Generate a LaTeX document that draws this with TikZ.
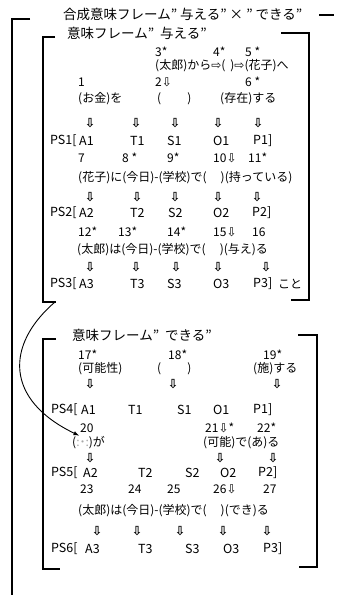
\documentclass[tikz,border=0pt]{standalone}
\usepackage{fontspec}
\setmainfont{Noto Sans CJK JP}
\newfontfamily\arrowfont{DejaVu Sans}
\newcommand{\dnarrow}{{\arrowfont ⇩}}
\newcommand{\rtarrow}{{\arrowfont ⇨}}
\newcommand{\gap}[1]{(\hspace{#1})}

\begin{document}
\begin{tikzpicture}[
    x=1pt, y=-1pt,
    txt/.style={anchor=west, inner sep=0pt, font=\fontsize{12}{12}\selectfont},
    lat/.style={anchor=west, inner sep=0pt, font=\fontsize{12.5}{12.5}\selectfont},
    ttl/.style={anchor=west, inner sep=0pt, font=\fontsize{13.5}{13.5}\selectfont},
    arr/.style={inner sep=0pt, font=\arrowfont\bfseries\fontsize{12.5}{12.5}\selectfont},
    frame/.style={draw, line width=1.2pt},
    line/.style={draw, -latex, line width=0.9pt}
]
    \useasboundingbox (0,0) rectangle (339,602);

    % outer frame
    \node [ttl] (title) at (63,14) {合成意味フレーム”\ 与える”\ ×\ ”\ できる”};
    \draw [frame] (30,19) -- (12,19) -- (12,595);
    \draw [frame] (319,15) -- (334,15);

    % frame 1
    \node [ttl] (frame1) at (67,33) {意味フレーム”\ \ 与える”};
    \draw [frame] (55,37) -- (43,37) -- (43,302) -- (56,302);
    \draw [frame] (281,33) -- (309,33) -- (309,300) -- (291,300);
    \coordinate (corner1) at (55,302);

    \node [txt] (n3) at (155,52) {3*};
    \node [txt] (n4) at (213,52) {4*};
    \node [txt] (n5) at (245,52) {5 *};
    \node [txt] (w345) at (155,66) {(太郎)から\rtarrow\gap{5pt}\rtarrow(花子)へ};
    \node [txt] (n1) at (78,82) {1};
    \node [txt] (n2) at (155,82) {2\dnarrow};
    \node [txt] (n6) at (245,82) {6 *};
    \node [txt] (w1) at (78,99) {(お金)を};
    \node [txt] (w2) at (157,99) {\gap{26pt}};
    \node [txt] (w6) at (220,99) {(存在)する};
    \node [arr] (d11) at (90,123) {⇩};
    \node [arr] (d12) at (136,123) {⇩};
    \node [arr] (d13) at (175,123) {⇩};
    \node [arr] (d14) at (218,123) {⇩};
    \node [arr] (d15) at (258,123) {⇩};
    \node [lat] (ps1) at (50,141) {PS1[};
    \node [lat] (a1) at (79,141) {A1};
    \node [lat] (t1) at (130,141) {T1};
    \node [lat] (s1) at (167,141) {S1};
    \node [lat] (o1) at (213,141) {O1};
    \node [lat] (p1) at (253,141) {P1]};

    \node [txt] (n7) at (78,158) {7};
    \node [txt] (n8) at (122,158) {8 *};
    \node [txt] (n9) at (167,158) {9*};
    \node [txt] (n10) at (213,158) {10\dnarrow};
    \node [txt] (n11) at (248,158) {11*};
    \node [txt] (w7) at (78,178) {(花子)に(今日)-(学校)で\gap{14pt}(持っている)};
    \node [arr] (d21) at (90,197) {⇩};
    \node [arr] (d22) at (137,197) {⇩};
    \node [arr] (d23) at (175,197) {⇩};
    \node [arr] (d24) at (218,197) {⇩};
    \node [arr] (d25) at (257,197) {⇩};
    \node [lat] (ps2) at (50,213) {PS2[};
    \node [lat] (a2) at (79,213) {A2};
    \node [lat] (t2) at (130,213) {T2};
    \node [lat] (s2) at (168,213) {S2};
    \node [lat] (o2) at (213,213) {O2};
    \node [lat] (p2) at (252,213) {P2]};

    \node [txt] (n12) at (78,232) {12*};
    \node [txt] (n13) at (118,232) {13*};
    \node [txt] (n14) at (167,232) {14*};
    \node [txt] (n15) at (213,232) {15\dnarrow};
    \node [txt] (n16) at (252,232) {16};
    \node [txt] (w12) at (77,250) {(太郎)は(今日)-(学校)で\gap{14pt}(与え)る};
    \node [arr] (d31) at (90,267) {⇩};
    \node [arr] (d32) at (136,267) {⇩};
    \node [arr] (d33) at (176,267) {⇩};
    \node [arr] (d34) at (218,267) {⇩};
    \node [arr] (d35) at (266,267) {⇩};
    \node [lat] (ps3) at (50,284) {PS3[};
    \node [lat] (a3) at (79,284) {A3};
    \node [lat] (t3) at (130,284) {T3};
    \node [lat] (s3) at (167,284) {S3};
    \node [lat] (o3) at (213,284) {O3};
    \node [lat] (p3) at (253,284) {P3]};
    \node [txt] (koto) at (278,284) {こと};

    % frame 2
    \node [ttl] (frame2) at (72,335) {意味フレーム”\ \ できる”};
    \draw [frame] (56,339) -- (43,339) -- (43,569) -- (60,569);
    \draw [frame] (298,335) -- (317,335) -- (317,567) -- (299,567);

    \node [txt] (n17) at (78,355) {17*};
    \node [txt] (n18) at (168,355) {18*};
    \node [txt] (n19) at (263,355) {19*};
    \node [txt] (w17) at (78,369) {(可能性)};
    \node [txt] (w18) at (157,369) {\gap{26pt}};
    \node [txt] (w19) at (253,369) {(施)する};
    \node [arr] (d41) at (90,384) {⇩};
    \node [arr] (d42) at (173,384) {⇩};
    \node [arr] (d43) at (277,384) {⇩};
    \node [lat] (ps4) at (51,410) {PS4[};
    \node [lat] (a4) at (81,410) {A1};
    \node [lat] (t4) at (128,410) {T1};
    \node [lat] (s4) at (177,410) {S1};
    \node [lat] (o4) at (213,410) {O1};
    \node [lat] (p4) at (253,410) {P1]};

    \node [txt] (n20) at (80,428) {20};
    \node [txt] (n21) at (205,428) {21\dnarrow *};
    \node [txt] (n22) at (257,428) {22*};
    \node [txt] (w20) at (72,443) {(\textcolor{black!35}{:˙:})が};
    \node [txt] (w21) at (203,443) {(可能)で(あ)る};
    \node [arr] (d51) at (90,458) {⇩};
    \node [arr] (d52) at (220,458) {⇩};
    \node [arr] (d53) at (273,458) {⇩};
    \node [lat] (ps5) at (51,473) {PS5[};
    \node [lat] (a5) at (83,473) {A2};
    \node [lat] (t5) at (138,473) {T2};
    \node [lat] (s5) at (185,473) {S2};
    \node [lat] (o5) at (220,473) {O2};
    \node [lat] (p5) at (258,473) {P2]};

    \node [txt] (n23) at (80,489) {23};
    \node [txt] (n24) at (128,489) {24};
    \node [txt] (n25) at (167,489) {25};
    \node [txt] (n26) at (213,489) {26\dnarrow};
    \node [txt] (n27) at (263,489) {27};
    \node [txt] (w23) at (78,511) {(太郎)は(今日)-(学校)で\gap{14pt}(でき)る};
    \node [arr] (d61) at (97,531) {⇩};
    \node [arr] (d62) at (137,531) {⇩};
    \node [arr] (d63) at (180,531) {⇩};
    \node [arr] (d64) at (223,531) {⇩};
    \node [arr] (d65) at (267,531) {⇩};
    \node [lat] (ps6) at (51,549) {PS6[};
    \node [lat] (a6) at (85,549) {A3};
    \node [lat] (t6) at (138,549) {T3};
    \node [lat] (s6) at (185,549) {S3};
    \node [lat] (o6) at (223,549) {O3};
    \node [lat] (p6) at (263,549) {P3]};

    % link from frame 1 to the blank of frame 2
    \draw [line] (corner1) .. controls (5,345) and (5,400) .. ([xshift=7pt,yshift=1pt]w20.north west);
\end{tikzpicture}
\end{document}
